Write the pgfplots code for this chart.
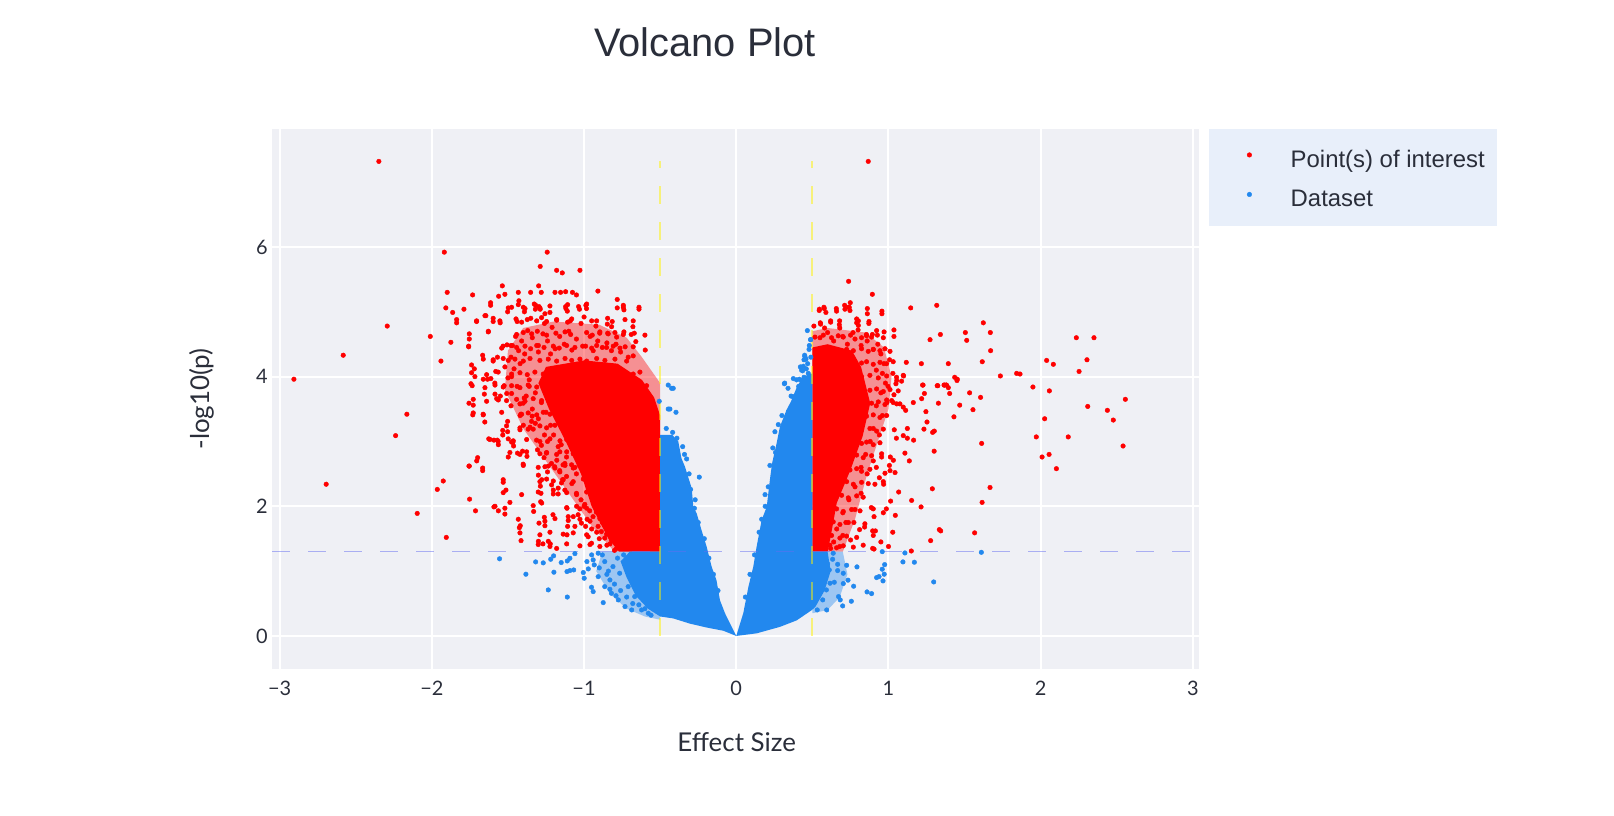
\documentclass[border=0pt]{standalone}
\usepackage{fontspec}
\setmainfont{Liberation Sans}
\newfontfamily\latofont{Lato}
\usepackage{pgfplots}
\pgfplotsset{compat=1.18}
\definecolor{ptred}{RGB}{255,0,0}
\definecolor{ptblue}{RGB}{34,136,238}
\definecolor{plotbg}{RGB}{239,240,245}
\definecolor{legbg}{RGB}{232,239,250}
\definecolor{txt}{RGB}{42,46,58}
\definecolor{lav}{RGB}{100,110,240}
\begin{document}
\begin{tikzpicture}
\path[use as bounding box] (0,0) rectangle (1614bp,816bp);
\node[anchor=base, font=\fontsize{40}{48}\selectfont, text=txt, inner sep=0pt] at (705bp,759bp) {Volcano Plot};
\begin{axis}[
  at={(272bp,147bp)}, anchor=south west, scale only axis,
  width=927bp, height=540bp,
  xmin=-3.05, xmax=3.04, ymin=-0.51, ymax=7.82,
  axis line style={draw=none}, major tick length=0pt,
  axis background/.style={fill=plotbg},
  xmajorgrids, ymajorgrids, major grid style={white, line width=2bp},
  xtick={-3,-2,-1,0,1,2,3}, xticklabels={−3,−2,−1,0,1,2,3},
  ytick={0,2,4,6}, yticklabels={0,2,4,6},
  xticklabel style={font=\latofont\fontsize{20}{24}\selectfont, text=txt, anchor=center, inner sep=0pt, yshift=-19bp},
  yticklabel style={font=\latofont\fontsize{20}{24}\selectfont, text=txt, anchor=east, inner sep=0pt, xshift=-4bp},
  xlabel={Effect Size},
  xlabel style={font=\latofont\fontsize{26}{31}\selectfont, text=txt, at={(axis description cs:0.5013,-0.135)}, anchor=center},
  ylabel={-log10(p)},
  ylabel style={font=\latofont\fontsize{26}{31}\selectfont, text=txt, at={(axis description cs:-0.0755,0.5)}, anchor=center},
  legend style={at={(axis description cs:1.0108,1)}, anchor=north west, fill=legbg, draw=none,
    inner xsep=4bp, inner ysep=9bp, row sep=0bp, font=\fontsize{24}{29}\selectfont, text=txt,
    nodes={text height=21bp, text depth=2.5bp, inner xsep=8bp, inner ysep=8bp},
    /tikz/every odd column/.append style={column sep=31bp}},
  legend cell align=left,
  legend image code/.code={\path (-36bp,0bp); \draw[#1] plot coordinates {(0bp,3bp)};},
]
% ---- semi-dense red halos
\addplot[fill=ptred, fill opacity=0.4, draw=none, forget plot] coordinates {
(-0.5,1.3) (-0.8,1.3) (-0.95,1.7) (-1.1,2.2) (-1.25,2.7) (-1.4,3.2) (-1.52,3.8) (-1.5,4.4) (-1.4,4.75) (-1.2,4.85) (-0.9,4.8) (-0.72,4.6) (-0.62,4.3) (-0.5,3.9)} -- cycle;
\addplot[fill=ptred, fill opacity=0.4, draw=none, forget plot] coordinates {
(0.5,1.3) (0.7,1.3) (0.78,1.8) (0.86,2.5) (0.93,3.0) (1.0,3.5) (1.02,4.0) (0.97,4.45) (0.85,4.68) (0.6,4.75) (0.5,4.7)} -- cycle;
% ---- dense red cores
\addplot[fill=ptred, draw=none, forget plot] coordinates {
(-0.5,1.3) (-0.77,1.3) (-0.84,1.5) (-0.95,2.0) (-1.02,2.5) (-1.12,3.0) (-1.23,3.5) (-1.3,3.9) (-1.25,4.15) (-1.0,4.25) (-0.78,4.2) (-0.62,3.95) (-0.54,3.68) (-0.5,3.4)} -- cycle;
\addplot[fill=ptred, draw=none, forget plot] coordinates {
(0.5,1.3) (0.6,1.3) (0.62,1.53) (0.66,2.05) (0.75,2.56) (0.83,3.08) (0.88,3.59) (0.82,4.15) (0.76,4.4) (0.6,4.5) (0.5,4.45)} -- cycle;
% ---- red points
\addplot[only marks, mark=*, mark size=2.3bp, color=ptred] coordinates {
(-2.348,7.32) (0.867,7.32)
(-1.918,5.92) (-1.242,5.92) (-1.288,5.70) (-1.18,5.64) (-1.143,5.60) (-1.027,5.64) (-1.899,5.30) (-1.908,5.06) (-1.863,4.99) (-1.789,5.04) (-1.837,4.83) (-1.732,5.26) (-2.293,4.78) (-2.01,4.62) (-2.582,4.33) (-2.906,3.96) (-1.875,4.53) (-1.94,4.24) (-1.754,4.58) (-1.758,4.46) (-1.706,4.86) (-1.645,4.94) (-1.614,5.14) (-1.537,5.40) (-1.561,5.24) (-1.52,5.27) (-1.432,5.30) (-1.351,5.30) (-1.281,5.30) (-1.298,5.40) (-1.191,5.30) (-1.154,5.30) (-1.121,5.31) (-1.076,5.30) (-1.05,5.26) (-0.909,5.32) (-0.782,5.19) (-0.742,5.07) (-0.738,5.03) (-0.639,5.04) (-0.679,4.77) (-0.598,4.41) (-0.677,4.32) (-0.66,4.54) (-0.988,5.10) (-0.984,5.05) (-1.03,5.04) (-1.121,5.08) (-1.11,5.01) (-1.224,4.99) (-1.257,4.97) (-1.288,5.04) (-1.318,5.10) (-1.296,5.08) (-1.32,5.04) (-1.388,5.05) (-1.392,5.00) (-1.428,5.17) (-1.476,5.07) (-1.502,5.00) (-0.847,4.81) (-0.819,4.77) (-0.922,4.78) (-0.897,4.67) (-0.845,4.67) (-0.786,4.61) (-0.738,4.69) (-0.69,4.65) (-1.597,4.85) (-1.551,4.83) (-1.629,4.70) (-1.651,4.94) (-1.666,4.33) (-1.597,4.26) (-1.569,4.30) (-1.532,4.47) (-1.506,4.49) (-1.471,4.48) (-1.739,4.18) (-1.721,4.12) (-1.743,3.89) (-1.717,4.00) (-1.662,3.96) (-1.634,3.96) (-1.612,3.97) (-1.586,3.90) (-1.525,3.86) (-1.476,4.00)
(-1.45,4.62) (-1.41,4.55) (-1.37,4.71) (-1.34,4.60) (-1.30,4.48) (-1.27,4.66) (-1.24,4.55) (-1.21,4.76) (-1.19,4.43) (-1.16,4.62) (-1.13,4.50) (-1.10,4.70) (-1.08,4.41) (-1.05,4.58) (-1.02,4.82) (-0.99,4.47) (-0.96,4.62) (-0.94,4.40) (-0.91,4.55) (-0.88,4.45) (-0.85,4.52) (-0.82,4.40) (-0.79,4.50) (-0.76,4.38) (-0.73,4.46) (-0.71,4.30) (-1.43,4.40) (-1.39,4.35) (-1.44,4.85) (-1.35,4.90) (-1.26,4.82) (-1.18,4.88) (-1.09,4.86) (-1.00,4.92) (-0.95,4.86) (-1.30,4.38) (-1.22,4.35) (-1.48,4.30) (-1.52,4.15) (-1.46,4.12) (-1.50,3.98) (-1.42,4.20) (-1.58,4.08) (-1.55,3.70) (-1.48,3.55) (-1.44,3.85) (-1.38,3.70) (-1.36,3.95) (-1.34,3.50) (-1.42,3.40) (-1.32,3.28) (-1.26,3.10) (-1.30,3.35)
(-1.614,5.10) (-1.498,5.06) (-1.432,5.11) (-1.399,5.07) (-1.327,5.12) (-1.290,5.06) (-1.224,5.09) (-1.119,5.05) (-1.108,5.11) (-1.036,5.08) (-0.983,5.12) (-0.782,5.06) (-0.742,5.10) (-0.639,5.07)
(-1.837,4.88) (-1.706,4.85) (-1.597,4.90) (-1.553,4.86) (-1.447,4.89) (-1.410,4.84) (-1.373,4.88) (-1.311,4.86) (-1.279,4.91) (-1.246,4.85) (-1.180,4.87) (-1.108,4.84) (-1.081,4.89) (-0.917,4.86) (-0.845,4.90) (-0.815,4.85) (-0.731,4.88) (-0.677,4.86)
(-1.754,4.66) (-1.629,4.69) (-1.443,4.65) (-1.399,4.68) (-1.344,4.66) (-1.307,4.70) (-1.246,4.64) (-1.185,4.67) (-1.125,4.69) (-1.088,4.65) (-0.983,4.68) (-0.946,4.64) (-0.896,4.69) (-0.841,4.66) (-0.797,4.68) (-0.742,4.65) (-0.670,4.67) (-0.600,4.64)
(-1.758,4.47) (-1.541,4.44) (-1.480,4.48) (-1.443,4.45) (-1.388,4.47) (-1.351,4.43) (-1.311,4.48) (-1.263,4.45) (-1.202,4.47) (-1.163,4.44) (-1.114,4.48) (-1.060,4.45) (-1.009,4.47) (-0.950,4.44) (-0.917,4.48) (-0.852,4.45) (-0.808,4.47) (-0.764,4.44) (-0.677,4.46)
(-1.662,4.27) (-1.597,4.24) (-1.531,4.28) (-1.498,4.25) (-1.454,4.27) (-1.399,4.24) (-1.355,4.28) (-1.290,4.25) (-1.235,4.27) (-1.180,4.24) (-1.125,4.28) (-1.081,4.25) (-1.027,4.27) (-0.983,4.24) (-0.917,4.28) (-0.863,4.25) (-0.797,4.27) (-0.720,4.24)
(-1.739,4.06) (-1.640,4.03) (-1.564,4.07) (-1.476,4.04) (-1.421,4.06) (-1.373,4.03) (-1.323,4.07) (-1.268,4.04) (-0.742,4.06) (-0.677,4.04) (-0.633,4.07)
(-1.735,3.86) (-1.651,3.83) (-1.585,3.87) (-1.531,3.84) (-1.476,3.86) (-1.421,3.83) (-1.367,3.87) (-1.311,3.84) (-0.589,3.86)
(-1.728,3.65) (-1.640,3.62) (-1.574,3.66) (-1.509,3.63) (-1.443,3.65) (-1.388,3.62) (-1.334,3.66) (-1.279,3.63) (-1.224,3.65)
(-1.728,3.44) (-1.662,3.41) (-1.541,3.45) (-1.410,3.42) (-1.367,3.44) (-1.311,3.41) (-1.268,3.45) (-1.224,3.42)
(-1.509,3.24) (-1.421,3.21) (-1.399,3.25) (-1.355,3.22) (-1.290,3.24) (-1.246,3.21) (-1.191,3.25) (-1.137,3.22)
(-1.618,3.03) (-1.564,3.00) (-1.498,3.04) (-1.465,3.01) (-1.377,3.03) (-1.290,3.00) (-1.224,3.04) (-1.158,3.01) (-1.114,3.03)
(-1.487,2.83) (-1.421,2.80) (-1.377,2.84) (-1.290,2.81) (-1.246,2.83) (-1.180,2.80) (-1.114,2.84) (-1.071,2.81)
(-1.754,2.62) (-1.666,2.59) (-1.399,2.63) (-1.301,2.60) (-1.235,2.62) (-1.191,2.59) (-1.125,2.63) (-1.060,2.60) (-1.027,2.62)
(-1.531,2.41) (-1.290,2.38) (-1.246,2.42) (-1.202,2.39) (-1.137,2.41) (-1.071,2.38) (-1.005,2.42)
(-1.531,2.21) (-1.410,2.18) (-1.301,2.22) (-1.202,2.19) (-1.114,2.21) (-1.049,2.18) (-0.983,2.22) (-0.940,2.19)
(-1.585,2.00) (-1.520,1.97) (-1.334,2.01) (-1.114,1.98) (-1.049,2.00) (-0.983,1.97) (-0.917,2.01)
(-1.432,1.80) (-1.257,1.77) (-1.191,1.81) (-1.104,1.78) (-1.027,1.80) (-0.961,1.77) (-0.896,1.81) (-0.852,1.78)
(-1.421,1.59) (-1.290,1.56) (-1.224,1.60) (-1.137,1.57) (-1.071,1.59) (-0.983,1.56) (-0.917,1.60) (-0.852,1.57) (-0.808,1.59)
(-1.301,1.41) (-1.224,1.38) (-1.114,1.42) (-1.027,1.39) (-0.961,1.41) (-0.896,1.38) (-0.830,1.42) (-0.764,1.39)
(-2.164,3.42) (-2.238,3.09) (-2.694,2.34) (-2.096,1.89) (-1.905,1.52) (-1.964,2.26) (-1.925,2.39) (-1.756,2.62) (-1.699,2.75) (-1.705,2.70) (-1.666,2.55) (-1.752,2.11) (-1.713,1.93) (-1.592,1.99) (-1.563,1.93) (-1.52,1.88) (-1.531,2.37) (-1.513,2.25) (-1.487,2.06) (-1.419,1.70) (-1.425,1.67) (-1.414,1.47) (-1.331,1.92) (-1.296,1.74) (-1.261,1.83) (-1.257,1.70) (-1.235,1.46) (-1.222,1.42) (-1.204,1.87) (-1.18,1.35) (-1.30,1.46) (-1.27,1.42) (-1.756,3.59) (-1.728,3.56) (-1.731,3.41) (-1.663,3.42) (-1.652,3.30) (-1.626,3.04) (-1.592,3.02) (-1.57,3.02) (-1.563,2.95) (-1.534,3.17) (-1.534,3.10) (-1.498,2.76) (-1.467,2.99) (-1.463,2.93) (-1.437,2.82) (-1.404,2.85) (-1.40,2.65) (-1.375,2.77) (-1.502,3.31) (-1.502,3.15) (-1.476,2.99) (-1.421,3.18) (-1.415,3.42) (-1.393,3.67) (-1.367,3.19) (-1.345,3.31) (-1.341,3.39) (-1.655,3.73) (-1.585,3.73) (-1.563,3.64) (-1.508,3.74) (-1.476,3.74) (-1.421,3.58) (-1.40,3.59) (-1.30,2.48) (-1.278,2.41) (-1.287,2.31) (-1.257,2.61) (-1.24,2.53) (-1.283,2.20) (-1.285,2.07) (-1.278,2.05) (-1.213,2.33) (-1.202,2.25) (-1.17,2.28) (-1.17,2.19) (-1.148,2.36) (-1.126,2.25) (-1.159,2.53) (-1.141,2.41) (-1.115,2.46) (-1.112,1.97) (-1.104,1.84) (-1.108,1.69) (-1.071,1.84) (-1.06,1.69) (-1.039,1.87) (-1.017,1.74) (-0.99,1.69) (-0.973,1.53) (-0.951,1.43) (-1.112,1.56) (-1.028,1.96) (-0.995,2.03) (-0.963,1.93) (-0.941,1.84) (-0.919,1.91) (-0.908,1.69) (-0.886,1.61) (-0.864,1.51) (-0.82,1.48) (-0.787,1.35) (-0.765,1.43) (-0.732,1.38) (-1.334,3.19) (-1.312,3.02) (-1.306,2.87) (-1.28,2.94) (-1.263,2.75) (-1.247,2.82) (-1.214,2.66) (-1.179,2.71) (-1.193,2.61) (-1.138,2.64) (-1.17,2.92) (-1.159,2.84) (-1.115,2.76) (-1.126,2.66) (-1.082,2.64) (-1.071,2.59)
(-1.05,2.2) (-1.02,2.1) (-1.08,2.35) (-0.98,1.8) (-0.95,1.65) (-0.9,1.5) (-0.85,1.4) (-0.8,1.32) (-0.88,1.75) (-1.15,2.95) (-1.2,3.1) (-1.22,3.25) (-1.25,3.45) (-1.28,3.6) (-1.32,3.75) (-1.36,3.85) (-1.24,3.0) (-1.16,2.55) (-1.05,2.5) (-1.0,2.0)
(0.738,5.47) (0.894,5.27) (1.146,5.06) (1.317,5.10) (0.546,5.04) (0.576,5.07) (0.589,4.99) (0.657,5.05) (0.712,5.10) (0.738,5.07) (0.749,5.14) (0.742,5.07) (0.861,4.97) (0.957,4.97) (0.872,4.85) (0.791,4.89) (0.802,4.86) (0.679,4.86) (0.62,4.86) (0.552,4.83) (0.51,4.78) (1.036,4.72) (0.971,4.69) (0.922,4.71) (0.894,4.65) (0.855,4.65) (0.767,4.68) (1.273,4.57) (1.341,4.65) (1.505,4.68) (1.514,4.56) (1.623,4.83) (1.669,4.68) (1.671,4.40) (1.616,4.23) (1.117,4.22) (1.216,4.20) (1.393,4.20) (1.435,3.99) (1.452,3.96) (1.735,4.01) (1.842,4.05) (1.864,4.04) (1.949,3.84) (2.039,4.25) (2.083,4.19) (2.234,4.60) (2.35,4.60) (2.304,4.26) (2.252,4.08) (1.054,3.94) (1.099,4.01) (1.029,4.05) (1.007,4.26) (1.224,3.87) (1.32,3.86) (1.365,3.87) (1.38,3.87) (1.393,3.83)
(0.55,4.6) (0.6,4.68) (0.64,4.55) (0.7,4.62) (0.73,4.5) (0.78,4.58) (0.82,4.48) (0.86,4.55) (0.9,4.42) (0.93,4.5) (0.95,4.35) (0.97,4.2) (0.96,4.05) (0.92,4.1) (0.98,3.9) (0.95,3.75) (0.99,3.6) (0.92,3.55) (0.96,3.4) (0.9,3.2) (0.94,3.1) (0.88,3.0) (0.85,2.8) (0.9,2.7) (0.82,2.6) (0.86,2.5) (0.78,2.3) (0.82,2.2) (0.74,2.1) (0.78,1.95) (0.7,1.9) (0.72,1.75) (0.66,1.65) (0.7,1.55) (0.64,1.45) (0.68,1.38) (0.62,1.35) (0.58,4.75) (0.68,4.75) (0.8,4.72)
(0.545,5.02) (0.578,5.05) (0.659,5.01) (0.714,5.04) (0.747,5.02) (0.861,5.05) (0.957,5.01)
(0.554,4.81) (0.620,4.84) (0.677,4.80) (0.791,4.83) (0.802,4.79) (0.871,4.82)
(0.517,4.61) (0.572,4.64) (0.626,4.60) (0.670,4.63) (0.703,4.61) (0.751,4.64) (0.823,4.60) (0.856,4.63) (0.889,4.61) (0.927,4.64) (0.966,4.60) (1.036,4.62)
(0.528,4.41) (0.594,4.43) (0.659,4.39) (0.725,4.42) (0.769,4.40) (0.823,4.43) (0.867,4.39) (0.900,4.42) (0.944,4.40) (0.977,4.43) (1.010,4.39)
(0.823,4.21) (0.856,4.23) (0.900,4.19) (0.944,4.22) (0.988,4.20) (1.031,4.23)
(0.823,4.00) (0.878,4.02) (0.933,3.98) (0.988,4.01) (1.053,3.99) (1.097,4.02)
(0.878,3.79) (0.922,3.81) (0.966,3.77) (1.010,3.80) (1.064,3.78)
(0.889,3.59) (0.933,3.61) (0.977,3.57) (1.031,3.60) (1.075,3.58)
(0.856,3.39) (0.900,3.41) (0.944,3.37) (0.988,3.40)
(0.823,3.18) (0.878,3.20) (0.922,3.16) (0.966,3.19)
(0.823,2.97) (0.856,2.99) (0.900,2.95) (0.944,2.98)
(0.758,2.77) (0.791,2.79) (0.834,2.75) (0.889,2.78) (0.955,2.76)
(0.747,2.56) (0.791,2.58) (0.823,2.54) (0.878,2.57) (1.010,2.55)
(0.681,2.36) (0.725,2.38) (0.769,2.34) (0.823,2.37) (0.867,2.35) (0.966,2.38)
(0.659,2.15) (0.692,2.17) (0.736,2.13) (0.791,2.16) (0.834,2.14)
(0.615,1.94) (0.659,1.96) (0.703,1.92) (0.758,1.95) (0.813,1.93) (0.900,1.96)
(0.594,1.74) (0.637,1.76) (0.681,1.72) (0.736,1.75) (0.845,1.73)
(0.583,1.53) (0.626,1.55) (0.681,1.51) (0.725,1.54) (0.791,1.52) (0.900,1.55)
(0.572,1.38) (0.615,1.40) (0.659,1.36) (0.703,1.39) (0.769,1.37)
(2.057,3.78) (2.556,3.65) (2.309,3.54) (2.438,3.48) (2.477,3.33) (2.026,3.35) (1.971,3.07) (2.181,3.07) (2.541,2.93) (2.009,2.76) (2.055,2.80) (2.103,2.58) (1.667,2.29) (1.612,2.97) (1.615,2.06) (1.566,1.59) (1.288,2.27) (1.30,2.85) (1.277,1.47) (1.334,1.64) (1.343,1.62) (1.214,1.99) (1.152,2.09) (1.15,1.31) (1.028,1.60) (1.045,1.86) (1.067,2.22) (1.043,2.52) (1.137,2.70) (1.108,2.82) (1.012,2.76) (1.032,2.71) (1.006,2.63) (0.955,2.81) (0.92,2.60) (0.94,2.44) (0.968,2.34) (0.911,2.34) (0.977,2.51) (1.014,2.08) (0.986,1.96) (0.966,1.90) (0.905,1.84) (0.887,1.98) (0.896,1.62) (0.914,1.62) (0.834,1.40) (0.896,1.35) (0.905,1.34) (0.751,1.48) (0.81,1.64) (0.843,1.68) (0.773,1.75) (1.233,3.19) (1.253,3.30) (1.29,3.14) (1.301,3.16) (1.165,3.02) (1.097,3.09) (1.124,3.20) (1.246,3.46) (1.328,3.59) (1.43,3.38) (1.468,3.56) (1.533,3.75) (1.555,3.49) (1.605,3.68) (1.45,3.94) (1.218,3.66) (1.236,3.74) (1.163,3.60) (1.227,3.87) (1.324,3.86) (1.367,3.87) (1.38,3.87) (1.402,3.74) (1.038,3.18) (1.052,3.05) (1.124,3.05) (1.021,3.63) (1.054,3.58) (1.097,3.53) (1.113,3.48) (1.036,3.72) (0.988,3.64) (1.086,3.93) (0.997,3.85) (1.049,3.89) (0.95,1.45) (1.0,1.38)
};
\addlegendentry{Point(s) of interest}
% ---- semi-dense blue halo
\addplot[fill=ptblue, fill opacity=0.4, draw=none, forget plot] coordinates {
(-0.5,1.3) (-0.88,1.3) (-0.92,1.0) (-0.83,0.65) (-0.72,0.42) (-0.6,0.3) (-0.5,0.25)} -- cycle;
\addplot[fill=ptblue, fill opacity=0.4, draw=none, forget plot] coordinates {
(0.5,1.3) (0.7,1.3) (0.73,0.95) (0.68,0.6) (0.6,0.4) (0.5,0.35)} -- cycle;
% ---- dense blue cores
\addplot[fill=ptblue, draw=none, forget plot] coordinates {
(0,0) (-0.03,0.14) (-0.074,0.35) (-0.107,0.55) (-0.13,0.86) (-0.162,1.07) (-0.195,1.38) (-0.228,1.63) (-0.26,1.89) (-0.282,1.99) (-0.293,2.28) (-0.337,2.61) (-0.36,2.74) (-0.381,3.0) (-0.42,3.1) (-0.5,3.1) (-0.5,1.3) (-0.7,1.3) (-0.76,1.15) (-0.72,0.9) (-0.66,0.62) (-0.58,0.42) (-0.5,0.3) (-0.414,0.27) (-0.305,0.19) (-0.195,0.13) (-0.085,0.08)} -- cycle;
\addplot[fill=ptblue, draw=none, forget plot] coordinates {
(0,0) (0.046,0.35) (0.08,0.76) (0.112,1.07) (0.134,1.38) (0.167,1.79) (0.2,1.99) (0.221,2.41) (0.235,2.66) (0.265,2.97) (0.287,3.23) (0.331,3.49) (0.36,3.62) (0.4,3.85) (0.44,4.0) (0.5,4.05) (0.5,1.3) (0.6,1.3) (0.62,1.0) (0.58,0.7) (0.52,0.45) (0.497,0.4) (0.397,0.24) (0.287,0.14) (0.134,0.04)} -- cycle;
% ---- blue points
\addplot[only marks, mark=*, mark size=2.3bp, color=ptblue] coordinates {
(-1.555,1.19) (-1.382,0.952) (-1.235,0.71) (-1.11,0.60) (-1.318,1.142) (-1.268,1.127) (-1.219,1.183) (-1.20,1.235) (-1.198,0.983) (-1.15,1.132) (-1.11,1.157) (-1.093,1.198) (-1.06,1.27) (-1.093,1.008) (-1.112,0.993) (-1.068,1.018) (-1.005,0.978) (-0.999,0.89) (-0.972,1.034) (-0.981,1.147) (-0.94,1.173) (-0.933,1.096) (-0.951,0.751) (-0.94,0.684) (-0.907,0.915) (-0.874,0.514) (-0.864,0.761) (-0.83,0.864) (-0.82,0.658) (-0.775,0.556) (-0.731,0.453) (-0.687,0.401) (-0.622,0.401) (-0.907,1.276) (-0.864,1.147) (-0.81,1.07) (-0.766,0.967) (-0.71,0.761) (-0.667,0.607) (-0.578,0.35)
(-0.88,1.25) (-0.84,1.0) (-0.8,0.8) (-0.78,1.2) (-0.76,0.7) (-0.72,0.6) (-0.7,1.05) (-0.68,0.5) (-0.64,0.48) (-0.6,0.42) (-0.56,0.32) (-0.85,0.95) (-0.9,1.05) (-0.95,1.25) (-0.74,1.25) (-0.79,0.62) (-0.83,0.72)
(-0.447,3.87) (-0.414,3.82) (-0.425,3.82) (-0.506,3.62) (-0.447,3.50) (-0.396,3.45) (-0.436,3.50) (-0.243,2.45) (-0.418,3.14) (-0.352,2.92) (-0.326,2.73) (-0.30,2.26) (-0.275,1.97) (-0.31,2.5) (-0.34,2.8) (-0.27,2.1) (-0.25,1.75) (-0.21,1.5) (-0.18,1.2) (-0.15,0.95) (-0.12,0.7) (-0.39,3.05) (-0.46,3.2)
(0.467,4.71) (0.489,4.57) (0.478,4.42) (0.449,4.33) (0.458,4.27) (0.445,4.26) (0.469,4.20) (0.421,4.15) (0.436,4.09) (0.375,3.97) (0.414,3.96) (0.429,3.94) (0.318,3.90) (0.34,3.82) (0.445,3.99) (0.473,4.05) (0.189,2.18) (0.167,1.80) (0.221,2.63) (0.258,2.83) (0.254,3.15) (0.276,3.26) (0.316,3.89) (0.343,3.46) (0.48,4.48) (0.46,4.12) (0.49,4.3) (0.36,3.7) (0.3,3.4) (0.24,2.9) (0.21,2.3) (0.19,2.0) (0.15,1.6) (0.12,1.25) (0.09,0.95) (0.06,0.6)
(0.488,4.57) (0.451,4.31) (0.429,4.10) (0.396,3.95) (0.374,3.69) (0.44,4.16) (0.41,3.85)
(0.959,1.30) (1.108,1.28) (1.61,1.29) (1.095,1.142) (1.17,1.137) (1.297,0.833) (0.975,1.10) (0.959,1.029) (0.972,0.952) (0.964,0.849) (0.922,0.90) (0.938,0.915) (0.793,1.065) (0.771,0.767) (0.859,0.679) (0.889,0.653) (0.756,0.535) (0.699,0.463) (0.725,1.09) (0.703,0.967) (0.666,1.105) (0.666,1.008) (0.672,0.607) (0.683,0.556) (0.594,0.401) (0.568,0.556) (0.616,0.813) (0.592,0.71) (0.644,0.828) (0.611,1.018) (0.60,1.111) (0.637,1.276) (0.703,0.808) (0.734,0.86) (0.633,1.183) (0.543,1.163) (0.576,1.065) (0.541,0.967) (0.556,0.772) (0.532,0.401) (0.521,0.556)
};
\addlegendentry{Dataset}
% ---- threshold lines
\addplot[forget plot, draw=yellow, opacity=0.5, line width=2bp, dash pattern=on 18bp off 18bp] coordinates {(-0.5,0) (-0.5,7.32)};
\addplot[forget plot, draw=yellow, opacity=0.5, line width=2bp, dash pattern=on 18bp off 18bp] coordinates {(0.5,0) (0.5,7.32)};
\addplot[forget plot, draw=lav, opacity=0.5, line width=1.5bp, dash pattern=on 18bp off 18bp] coordinates {(-3.05,1.301) (3.0,1.301)};
\end{axis}
\end{tikzpicture}
\end{document}
